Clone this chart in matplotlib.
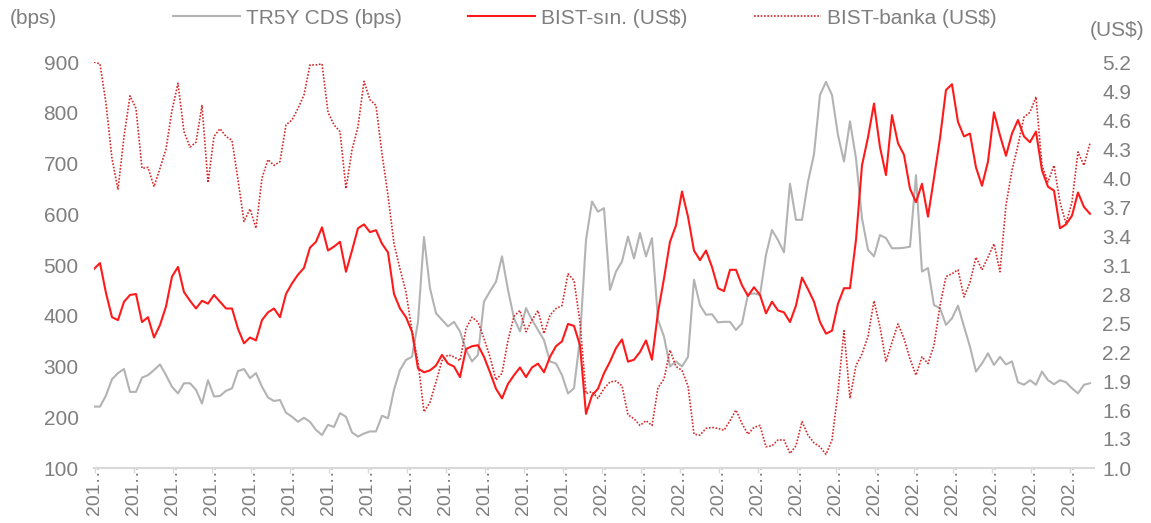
import numpy as np
import matplotlib
matplotlib.use("Agg")
import matplotlib.pyplot as plt

plt.rcParams['font.family'] = ['Liberation Sans', 'DejaVu Sans']

# ---- data (3-weekly samples) ----
cds_bps = [
    221, 221, 243, 275, 287, 295, 250, 250, 278, 283, 293, 304, 283, 260, 247, 267, 267, 254, 227, 273,
    241, 242, 252, 257, 291, 295, 277, 287, 260, 239, 232, 234, 209, 201,
    191, 199, 191, 175, 165, 185, 181, 208, 201, 170, 162, 168, 172, 172, 203, 198, 254, 293, 313, 319,
    388, 555, 454, 405, 392, 379, 388, 369, 333, 310, 323, 428, 448,
    467, 517, 451, 395, 369, 415, 392, 372, 352, 310, 306, 283, 247, 257, 355, 549, 625, 605, 612, 451,
    487, 507, 556, 513, 563, 517, 553, 392, 359, 300, 310, 300, 319,
    471, 421, 402, 403, 387, 388, 388, 372, 385, 442, 444, 441, 520, 569, 549, 525, 660, 589, 589, 664,
    718, 835, 861, 835, 756, 704, 783, 710, 592, 530, 517, 559, 553, 533,
    533, 534, 536, 677, 487, 494, 421, 415, 382, 395, 420, 379, 339, 290, 306, 326, 303, 319, 304, 310,
    269, 264, 273, 264, 290, 273, 265, 273, 269, 257, 247, 264, 267,
]

bist_sin_usd = [
    3.06, 3.12, 2.81, 2.56, 2.53, 2.72, 2.79, 2.80, 2.51, 2.56, 2.35, 2.48, 2.67, 2.98, 3.08, 2.82, 2.73,
    2.65, 2.73, 2.70, 2.79, 2.72, 2.65, 2.65, 2.44, 2.29, 2.35, 2.32, 2.53, 2.61, 2.65, 2.56, 2.80, 2.91,
    3.00, 3.07, 3.28, 3.34, 3.49, 3.25, 3.29, 3.34, 3.03, 3.25, 3.48, 3.52, 3.44, 3.46, 3.32, 3.23, 2.80,
    2.65, 2.56, 2.41, 2.03, 1.99, 2.01, 2.06, 2.17, 2.08, 2.05, 1.94, 2.23, 2.26, 2.27, 2.15, 1.99,
    1.82, 1.72, 1.87, 1.96, 2.04, 1.94, 2.04, 2.08, 1.99, 2.15, 2.26, 2.31, 2.49, 2.47, 2.27, 1.56, 1.75,
    1.82, 1.98, 2.10, 2.24, 2.33, 2.10, 2.12, 2.20, 2.32, 2.12, 2.61, 2.96, 3.34, 3.51, 3.86, 3.60,
    3.25, 3.15, 3.25, 3.08, 2.86, 2.83, 3.05, 3.05, 2.89, 2.78, 2.87, 2.79, 2.60, 2.72, 2.63, 2.61, 2.51,
    2.68, 2.97, 2.85, 2.72, 2.51, 2.39, 2.42, 2.70, 2.86, 2.86, 3.36, 4.13, 4.42, 4.77, 4.32, 4.03, 4.65,
    4.36, 4.24, 3.89, 3.75, 3.94, 3.60, 4.00, 4.41, 4.91, 4.97, 4.58, 4.43, 4.46, 4.11, 3.92, 4.17, 4.68,
    4.44, 4.23, 4.46, 4.60, 4.43, 4.37, 4.48, 4.08, 3.91, 3.87, 3.48, 3.52, 3.61, 3.85, 3.70, 3.63,
]

bist_banka_usd = [
    5.20, 5.18, 4.77, 4.20, 3.88, 4.43, 4.85, 4.72, 4.10, 4.11, 3.91, 4.10, 4.30, 4.70, 4.98, 4.48, 4.32,
    4.37, 4.75, 3.95, 4.43, 4.51, 4.43, 4.39, 3.98, 3.55, 3.68, 3.48, 4.00, 4.19, 4.13, 4.17, 4.55, 4.60,
    4.72, 4.86, 5.17, 5.17, 5.18, 4.68, 4.55, 4.48, 3.89, 4.29, 4.53, 5.00, 4.81, 4.75, 4.25, 3.82, 3.32,
    3.06, 2.82, 2.42, 2.10, 1.58, 1.68, 1.89, 2.11, 2.17, 2.15, 2.11, 2.44, 2.56, 2.51, 2.34, 2.15,
    1.91, 1.98, 2.32, 2.57, 2.63, 2.41, 2.53, 2.63, 2.39, 2.58, 2.65, 2.68, 3.01, 2.94, 2.51, 1.77, 1.79,
    1.72, 1.82, 1.89, 1.90, 1.85, 1.55, 1.51, 1.44, 1.49, 1.44, 1.83, 1.92, 2.22, 2.05, 2.01, 1.85,
    1.35, 1.34, 1.41, 1.42, 1.41, 1.39, 1.49, 1.60, 1.46, 1.35, 1.42, 1.44, 1.22, 1.23, 1.29, 1.29, 1.15,
    1.23, 1.48, 1.34, 1.26, 1.22, 1.14, 1.29, 1.79, 2.42, 1.72, 2.06, 2.18, 2.36, 2.73, 2.46, 2.10, 2.30,
    2.49, 2.34, 2.13, 1.96, 2.15, 2.08, 2.27, 2.68, 2.98, 3.01, 3.05, 2.77, 2.92, 3.18, 3.05, 3.18, 3.32,
    3.03, 3.72, 4.08, 4.34, 4.63, 4.68, 4.84, 4.13, 3.96, 4.13, 3.75, 3.53, 3.75, 4.27, 4.13, 4.36,
]

x_labels = ["201…"] * 13 + ["202…"] * 13
left_ticks = [100, 200, 300, 400, 500, 600, 700, 800, 900]
right_ticks = [1.0, 1.3, 1.6, 1.9, 2.2, 2.5, 2.8, 3.1, 3.4, 3.7, 4.0, 4.3, 4.6, 4.9, 5.2]

legend_names = ["TR5Y CDS (bps)", "BIST-sın. (US$)", "BIST-banka (US$)"]

# ---- styling ----
TXT = '#7f7f7f'
GRAY = '#b3b3b3'
RED = '#ff1a1a'
DRED = '#d42a2a'

W, H = 1151, 523
fig = plt.figure(figsize=(W / 100, H / 100), dpi=100)
ax = fig.add_axes([94 / W, 1 - 468 / H, 1000 / W, 406 / H])
ax2 = ax.twinx()

x = np.arange(len(cds_bps))
l1, = ax.plot(x, cds_bps, color=GRAY, lw=1.5, solid_joinstyle='round')
l2, = ax2.plot(x, bist_sin_usd, color=RED, lw=1.5, solid_joinstyle='round')
l3, = ax2.plot(x, bist_banka_usd, color=DRED, lw=1.2, linestyle=(0, (1, 1)))

ax.set_xlim(0, (len(cds_bps) - 1) + 0.67)
ax.set_ylim(100, 900)
ax2.set_ylim(1.0, 5.2)

ax.set_yticks(left_ticks)
ax.set_yticklabels([str(v) for v in left_ticks])
ax2.set_yticks(right_ticks)
ax2.set_yticklabels([f"{v:.1f}" for v in right_ticks])

tick_pos = np.arange(len(x_labels)) * 6.5 + 1 / 6
ax.set_xticks(tick_pos)
ax.set_xticklabels(x_labels, rotation=90, fontsize=14, color=TXT)

for a in (ax, ax2):
    for s in ('top', 'left', 'right'):
        a.spines[s].set_visible(False)
    a.spines['bottom'].set_visible(False)
ax.spines['bottom'].set_visible(True)
ax.spines['bottom'].set_color('#d9d9d9')
ax.spines['bottom'].set_linewidth(1.5)

ax.tick_params(axis='x', length=3.5, width=1, color='#d9d9d9', pad=-7.0)
ax.tick_params(axis='y', length=0, pad=11, labelsize=15, labelcolor=TXT)
ax2.tick_params(axis='y', length=0, pad=6, labelsize=15, labelcolor=TXT)

fig.text(10 / W, 1 - 18 / H, "(bps)", fontsize=15, color=TXT, ha='left', va='center')
fig.text(1090 / W, 1 - 30 / H, "(US$)", fontsize=15, color=TXT, ha='left', va='center')

fig.legend([l1, l2, l3], legend_names, loc='center', bbox_to_anchor=(585 / W, 1 - 18 / H),
           ncol=3, frameon=False, fontsize=15, labelcolor=TXT, handlelength=3.2,
           handletextpad=0.3, columnspacing=3.2, borderaxespad=0, borderpad=0)

fig.savefig("out.png", dpi=100)
